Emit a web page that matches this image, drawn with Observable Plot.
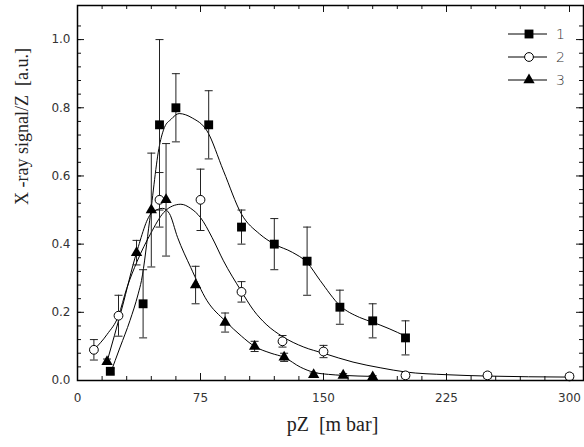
<!DOCTYPE html>
<html><head><meta charset="utf-8">
<script src="https://cdn.jsdelivr.net/npm/d3@7"></script>
<script src="https://cdn.jsdelivr.net/npm/@observablehq/plot@0.6"></script>
<style>
body{margin:0;background:#fff;}
#wrap{position:relative;width:584px;height:447px;}
#legend{position:absolute;left:0;top:0;}
</style></head><body><div id="wrap"></div>
<script>
// ---- data ----
const seriesNames = ["1", "2", "3"];

const x1 = [20, 40, 50, 60, 80, 100, 120, 140, 160, 180, 200];
const y1 = [0.027, 0.225, 0.75, 0.80, 0.75, 0.45, 0.40, 0.35, 0.215, 0.175, 0.125];
const e1 = [0.008, 0.10, 0.25, 0.10, 0.10, 0.05, 0.075, 0.10, 0.05, 0.05, 0.05];

const x2 = [10, 25, 50, 75, 100, 125, 150, 200, 250, 300];
const y2 = [0.09, 0.19, 0.53, 0.53, 0.26, 0.115, 0.085, 0.015, 0.015, 0.012];
const e2 = [0.03, 0.06, 0.08, 0.09, 0.03, 0.017, 0.018, 0.008, 0.008, 0.008];

const x3 = [18, 36, 45, 54, 72, 90, 108, 126, 144, 162, 180];
const y3 = [0.055, 0.375, 0.50, 0.53, 0.28, 0.17, 0.10, 0.068, 0.017, 0.015, 0.01];
const e3 = [0.008, 0.036, 0.167, 0.165, 0.055, 0.028, 0.015, 0.012, 0.005, 0.005, 0.004];

// fitted curves
const fit1x = [20, 26, 32, 37, 39, 44, 50, 53, 57, 62, 70, 79, 89, 100, 111, 120, 131, 140, 148, 160, 172, 180, 190, 200];
const fit1y = [0.02, 0.098, 0.176, 0.254, 0.293, 0.47, 0.69, 0.742, 0.766, 0.783, 0.77, 0.732, 0.615, 0.488, 0.43, 0.40, 0.376, 0.346, 0.293, 0.22, 0.185, 0.171, 0.152, 0.13];
const fit2x = [10, 18, 25, 30, 36.4, 44.5, 52.6, 58, 63, 69, 75, 82, 89, 99.5, 107.5, 115, 125, 138, 150, 168, 185, 200, 225, 250, 300];
const fit2y = [0.09, 0.135, 0.19, 0.27, 0.35, 0.43, 0.493, 0.512, 0.517, 0.505, 0.478, 0.42, 0.351, 0.265, 0.205, 0.165, 0.129, 0.098, 0.08, 0.054, 0.037, 0.025, 0.017, 0.013, 0.01];
const fit3x = [18, 27, 36, 45, 52, 56, 61, 69, 79, 90, 100, 108, 118, 126, 136, 144, 153, 162, 180];
const fit3y = [0.055, 0.21, 0.375, 0.49, 0.505, 0.49, 0.42, 0.332, 0.234, 0.175, 0.13, 0.10, 0.08, 0.068, 0.039, 0.024, 0.018, 0.015, 0.012];

const xTicksMajor = [0, 75, 150, 225, 300];
const yTicksMajor = [0.0, 0.2, 0.4, 0.6, 0.8, 1.0];
const xLabel = "pZ  [m bar]";
const yLabel = "X -ray signal/Z  [a.u.]";

// ---- layout ----
const W = 584, H = 447, mL = 77, mR = 1, mT = 5, mB = 67;
const innerW = W - mL - mR, innerH = H - mT - mB;
const majLen = 7, minLen = 4;
const xMinor = d3.range(0, 301, 15);
const yMinor = d3.range(0, 27).map(i => +(i * 0.04).toFixed(2));

const rows = (xs, ys, es) => xs.map((x, i) => ({x, y: ys[i], e: es[i]}));
const s1 = rows(x1, y1, e1), s2 = rows(x2, y2, e2), s3 = rows(x3, y3, e3);
const f1 = fit1x.map((x, i) => ({x, y: fit1y[i]}));
const f2 = fit2x.map((x, i) => ({x, y: fit2y[i]}));
const f3 = fit3x.map((x, i) => ({x, y: fit3y[i]}));
const allPts = [...s1, ...s2, ...s3];

const cap = {draw(ctx) { ctx.moveTo(-4, 0); ctx.lineTo(4, 0); }};
const font = "DejaVu Sans";

const chart = Plot.plot({
  width: W, height: H,
  marginLeft: mL, marginRight: mR, marginTop: mT, marginBottom: mB,
  x: {domain: [0, 300 * 506 / 492]},
  y: {domain: [0, 1.1]},
  style: {fontFamily: font, color: "#222", background: "#fff"},
  marks: [
    // ticks (inward)
    Plot.tickX(xMinor, {x: d => d, insetTop: innerH - minLen, stroke: "#111"}),
    Plot.tickX(xTicksMajor, {x: d => d, insetTop: innerH - majLen, stroke: "#111"}),
    Plot.tickX(xMinor, {x: d => d, insetBottom: innerH - minLen, stroke: "#111"}),
    Plot.tickX(xTicksMajor, {x: d => d, insetBottom: innerH - majLen, stroke: "#111"}),
    Plot.tickY(yMinor, {y: d => d, insetRight: innerW - minLen, stroke: "#111"}),
    Plot.tickY(yTicksMajor, {y: d => d, insetRight: innerW - majLen, stroke: "#111"}),
    Plot.tickY(yMinor, {y: d => d, insetLeft: innerW - minLen, stroke: "#111"}),
    Plot.tickY(yTicksMajor, {y: d => d, insetLeft: innerW - majLen, stroke: "#111"}),
    Plot.axisX({ticks: xTicksMajor, tickSize: 0, tickPadding: 13, label: null, fontSize: 12, fill: "#333", style: {letterSpacing: "2px", fontWeight: 200}}),
    Plot.axisY({ticks: yTicksMajor, tickSize: 0, tickPadding: 7, label: null, fontSize: 12, fill: "#333", tickFormat: d3.format(".1f"), style: {letterSpacing: "2px", fontWeight: 200}}),
    // fitted curves
    Plot.line(f1, {x: "x", y: "y", curve: "monotone-x", stroke: "#000", strokeWidth: 1}),
    Plot.line(f2, {x: "x", y: "y", curve: "monotone-x", stroke: "#000", strokeWidth: 1}),
    Plot.line(f3, {x: "x", y: "y", curve: "monotone-x", stroke: "#000", strokeWidth: 1}),
    // error bars
    Plot.ruleX(allPts, {x: "x", y1: d => d.y - d.e, y2: d => d.y + d.e, stroke: "#222", strokeWidth: 1}),
    Plot.dot(allPts, {x: "x", y: d => d.y - d.e, symbol: cap, stroke: "#222", fill: "none", strokeWidth: 1}),
    Plot.dot(allPts, {x: "x", y: d => d.y + d.e, symbol: cap, stroke: "#222", fill: "none", strokeWidth: 1}),
    // markers
    Plot.dot(s1, {x: "x", y: "y", symbol: "square", r: 5, fill: "#000", stroke: "none"}),
    Plot.dot(s2, {x: "x", y: "y", symbol: "circle", r: 4.4, fill: "#fff", stroke: "#000", strokeWidth: 1}),
    Plot.dot(s3, {x: "x", y: "y", symbol: "triangle", r: 4.2, fill: "#000", stroke: "none"}),
    Plot.frame({stroke: "#000", strokeWidth: 1.5}),
    // axis titles
    Plot.text([xLabel], {frameAnchor: "bottom", dx: 2, dy: 50, fontFamily: "Liberation Serif", fontSize: 20, fill: "#222", style: {letterSpacing: "1px"}}),
    Plot.text([yLabel], {frameAnchor: "left", rotate: -90, dx: -55, dy: 12, fontFamily: "Liberation Serif", fontSize: 18, fill: "#222"})
  ]
});
const wrap = document.getElementById("wrap");
wrap.appendChild(chart);

// legend overlay
const leg = d3.create("svg").attr("id", "legend").attr("width", W).attr("height", 100)
  .style("position", "absolute").style("left", "0px").style("top", "0px");
const rowY = [34, 57, 80];
const syms = [d3.symbolSquare, d3.symbolCircle, d3.symbolTriangle];
const sizes = [Math.PI * 25, Math.PI * 4.4 * 4.4, Math.PI * 4.2 * 4.2];
seriesNames.forEach((name, i) => {
  const g = leg.append("g").attr("transform", `translate(0,${rowY[i]})`);
  g.append("line").attr("x1", 508).attr("x2", 547).attr("stroke", "#000").attr("stroke-width", 1);
  g.append("path").attr("transform", "translate(529,0)").attr("d", d3.symbol(syms[i], sizes[i])())
    .attr("fill", i === 1 ? "#fff" : "#000").attr("stroke", i === 1 ? "#000" : "none");
  g.append("text").attr("x", 556).attr("y", 0).attr("dy", "0.35em").attr("font-family", font)
    .attr("font-size", 14).attr("font-weight", 200).attr("fill", "#333").text(name);
});
wrap.appendChild(leg.node());
</script></body></html>
